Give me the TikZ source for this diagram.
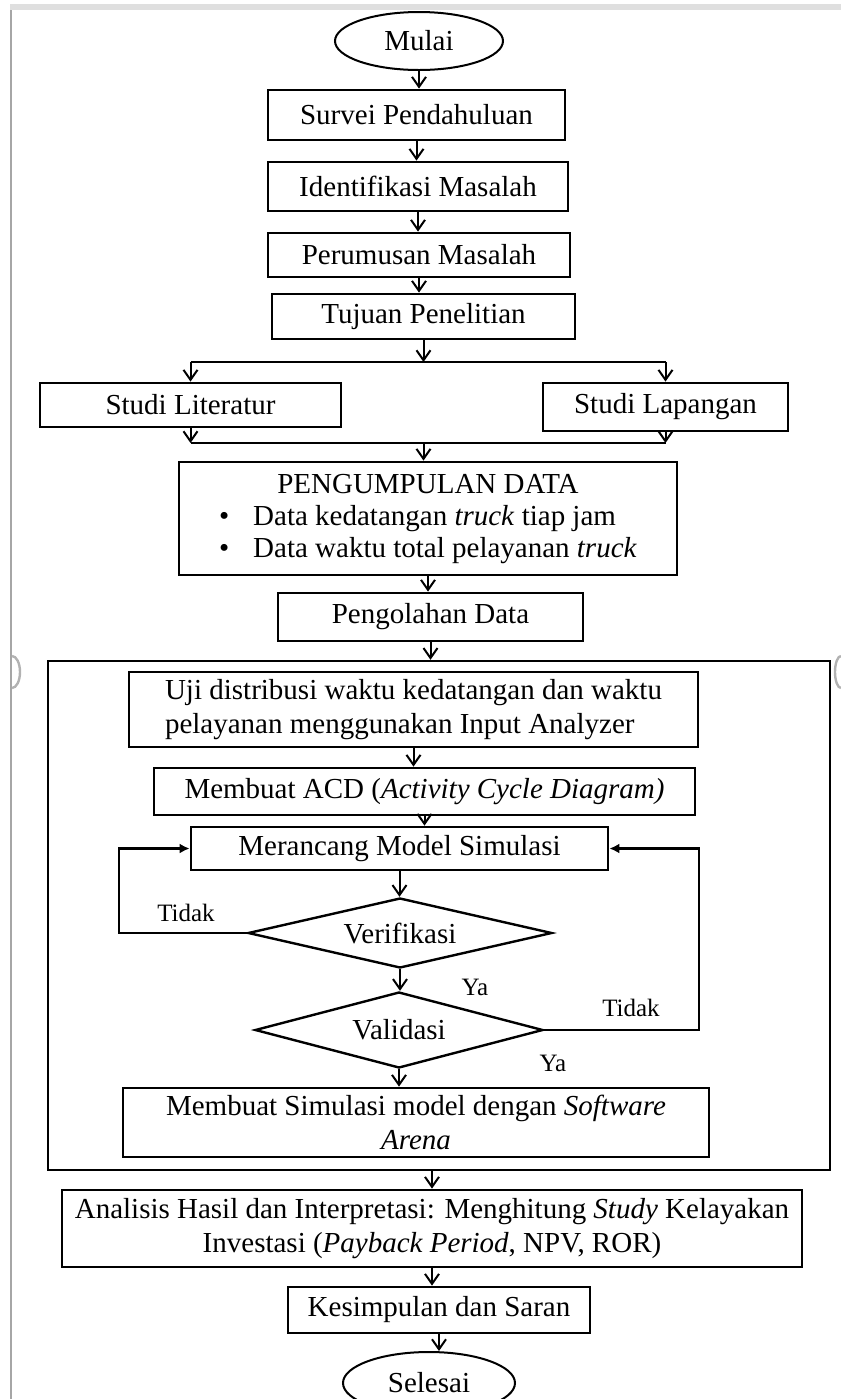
\documentclass[tikz,border=0pt]{standalone}
\usepackage{fontspec}
\setmainfont{Liberation Serif}
\usetikzlibrary{shapes.geometric,arrows.meta}
\tikzset{
  kotak/.style={draw,line width=1.4pt,inner sep=2pt,align=center},
  ujung/.style={draw,ellipse,line width=1pt,minimum width=84pt,minimum height=29pt},
  keputusan/.style={draw,diamond,line width=1.2pt,inner sep=0pt},
  panah/.style={line width=1pt,-{Straight Barb[length=5pt,width=7pt]}},
  balik/.style={line width=1.2pt,-{Latex[length=5pt,width=5pt]}},
  ket/.style={font=\fontsize{12.5}{14}\selectfont}
}
\begin{document}
\begin{tikzpicture}[x=0.5pt,y=-0.5pt,every node/.style={font=\fontsize{14.5}{17}\selectfont}]
\useasboundingbox (0,0) rectangle (841,1399);
% tepi halaman
\draw[gray!25,line width=3pt] (10,7)--(841,7);
\draw[gray!70,line width=1.2pt] (11,10)--(11,1399);
\draw[gray!60,line width=1.2pt] (12,688) arc (90:-90:8 and 16);
\draw[gray!60,line width=1.2pt] (841,688) arc (90:270:6 and 16);
% bagian atas
\node[ujung] (mulai) at (419,41) {Mulai};
\node[kotak,minimum width=148.5pt,minimum height=25pt] (survei) at (416.5,115) {Survei Pendahuluan};
\node[kotak,minimum width=150pt,minimum height=24.5pt] (identifikasi) at (418,186.5) {Identifikasi Masalah};
\node[kotak,minimum width=151pt,minimum height=22pt] (perumusan) at (419,255) {Perumusan Masalah};
\node[kotak,minimum width=151.5pt,minimum height=22.5pt] (tujuan) at (423.5,316.5) {Tujuan Penelitian};
\node[kotak,minimum width=150.5pt,minimum height=22pt] (literatur) at (190.5,405) {Studi Literatur};
\node[kotak,minimum width=122.5pt,minimum height=24pt] (lapangan) at (665.5,407) {Studi Lapangan};
\node[kotak,minimum width=249pt,minimum height=56.5pt,inner sep=0pt] (kumpul) at (428,518.5)
  {\begin{tabular}{@{}l@{}}\multicolumn{1}{c}{PENGUMPULAN DATA}\\[-1pt]
   \textbullet\hspace{12pt}Data kedatangan \textit{truck} tiap jam\\[-1pt]
   \textbullet\hspace{12pt}Data waktu total pelayanan \textit{truck}\end{tabular}};
\node[kotak,minimum width=152.5pt,minimum height=24pt] (olah) at (430.5,617) {Pengolahan Data};
% kotak simulasi
\node[draw,line width=1.2pt,minimum width=391pt,minimum height=254.5pt] (sim) at (439,915.5) {};
\node[kotak,minimum width=284.5pt,minimum height=37.5pt,align=left] (uji) at (413.5,709.5)
  {Uji distribusi waktu kedatangan dan waktu\\pelayanan menggunakan Input Analyzer};
\node[kotak,minimum width=270.5pt,minimum height=23.5pt] (acd) at (424.5,791.5) {Membuat ACD (\textit{Activity Cycle Diagram)}};
\node[kotak,minimum width=208.5pt,minimum height=21.5pt] (rancang) at (399.5,848.5) {Merancang Model Simulasi};
\node[keputusan,aspect=4.3,minimum width=152pt,minimum height=35pt] (verif) at (400,933) {Verifikasi};
\node[keputusan,aspect=3.8,minimum width=144pt,minimum height=38pt] (valid) at (399,1030) {Validasi};
\node[kotak,minimum width=293pt,minimum height=34.5pt] (arena) at (416,1122.5)
  {Membuat Simulasi model dengan \textit{Software}\\\textit{Arena}};
% bagian bawah
\node[kotak,minimum width=370pt,minimum height=38.5pt] (analisis) at (432,1228.5)
  {Analisis Hasil dan Interpretasi: Menghitung \textit{Study} Kelayakan\\Investasi (\textit{Payback Period}, NPV, ROR)};
\node[kotak,minimum width=151pt,minimum height=23pt] (simpul) at (439,1310) {Kesimpulan dan Saran};
\node[ujung,minimum width=86pt,minimum height=31pt] (selesai) at (429,1383) {Selesai};
% label
\node[ket] (tidak1) at (186,913) {Tidak};
\node[ket] (ya1) at (475,987) {Ya};
\node[ket] (tidak2) at (631,1008) {Tidak};
\node[ket] (ya2) at (553,1063) {Ya};
% panah lurus
\draw[panah] (mulai.south) -- (mulai.south |- survei.north);
\draw[panah] (survei.south) -- (survei.south |- identifikasi.north);
\draw[panah] (identifikasi.south) -- (identifikasi.south |- perumusan.north);
\draw[panah] (perumusan.south) -- (perumusan.south |- tujuan.north);
% cabang
\coordinate (bagi) at (423.5,362);
\coordinate (gabung) at (423.5,443);
\draw[panah] (tujuan.south) -- (bagi);
\draw[line width=1.2pt] (literatur.north |- bagi) -- (lapangan.north |- bagi);
\draw[panah] (literatur.north |- bagi) -- (literatur.north);
\draw[panah] (lapangan.north |- bagi) -- (lapangan.north);
\draw[panah] (literatur.south) -- (literatur.south |- gabung);
\draw[panah] (lapangan.south) -- (lapangan.south |- gabung);
\draw[line width=1.2pt] (literatur.south |- gabung) -- (lapangan.south |- gabung);
\draw[panah] (gabung) -- (gabung |- kumpul.north);
\draw[panah] (kumpul.south) -- (kumpul.south |- olah.north);
\draw[panah] (olah.south) -- (olah.south |- sim.north);
\draw[panah] (uji.south) -- (uji.south |- acd.north);
\draw[panah] (acd.south) -- (acd.south |- rancang.north);
\draw[panah] (rancang.south) -- (rancang.south |- verif.north);
\draw[panah] (verif.south) -- (verif.south |- valid.north);
\draw[panah] (valid.south) -- (valid.south |- arena.north);
\draw[panah] (analisis.north |- sim.south) -- (analisis.north);
\draw[panah] (analisis.south) -- (analisis.south |- simpul.north);
\draw[panah] (simpul.south) -- (simpul.south |- selesai.north);
% umpan balik
\draw[balik] (verif.west) -- ++(-128,0) |- (rancang.west);
\draw[balik] (valid.east) -- ++(155,0) |- (rancang.east);
\end{tikzpicture}
\end{document}
